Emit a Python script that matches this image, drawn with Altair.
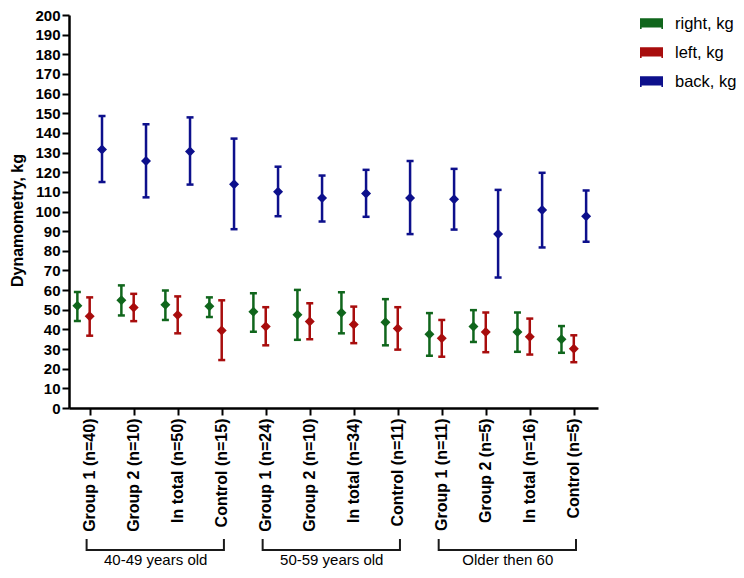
import json
import altair as alt
import pandas as pd

# ---------------- data ----------------
categories = ["Group 1 (n=40)", "Group 2 (n=10)", "In total (n=50)", "Control (n=15)",
              "Group 1 (n=24)", "Group 2 (n=10)", "In total (n=34)", "Control (n=11)",
              "Group 1 (n=11)", "Group 2 (n=5)", "In total (n=16)", "Control (n=5)"]

series_names = ["right, kg", "left, kg", "back, kg"]

right_mean = [52.0, 54.8, 52.5, 51.8, 49.0, 47.5, 48.5, 43.7, 37.5, 41.5, 38.7, 35.0]
right_low = [44.3, 47.1, 44.8, 46.3, 38.8, 34.7, 38.0, 31.9, 26.6, 33.6, 28.6, 28.1]
right_high = [59.0, 62.4, 59.8, 56.3, 58.4, 60.1, 58.9, 55.4, 48.3, 49.8, 48.6, 41.7]

left_mean = [46.7, 51.1, 47.3, 39.5, 41.5, 44.0, 42.5, 40.5, 35.5, 38.7, 36.3, 30.1]
left_low = [36.8, 44.2, 38.0, 24.4, 31.9, 35.0, 33.0, 29.7, 26.1, 28.4, 27.2, 23.3]
left_high = [56.3, 58.1, 56.8, 54.8, 51.3, 53.3, 51.6, 51.3, 44.8, 48.6, 45.5, 37.0]

back_mean = [131.6, 125.7, 130.5, 113.9, 110.0, 106.9, 109.2, 106.9, 106.2, 88.6, 100.8, 97.6]
back_low = [115.0, 107.2, 113.7, 91.0, 97.6, 94.9, 97.3, 88.5, 90.8, 66.4, 81.7, 84.6]
back_high = [148.6, 144.4, 147.9, 137.1, 122.8, 118.3, 121.2, 125.7, 121.7, 111.0, 119.7, 110.7]

group_labels = ["40-49 years old", "50-59 years old", "Older then 60"]
group_first = [0, 4, 8]
group_last = [3, 7, 11]

y_ticks = list(range(0, 201, 10))

# ---------------- table ----------------
rows = []
for s, (m, lo, hi) in zip(series_names, [(right_mean, right_low, right_high),
                                         (left_mean, left_low, left_high),
                                         (back_mean, back_low, back_high)]):
    for i, cat in enumerate(categories):
        rows.append({"idx": i, "category": cat, "series": s,
                     "mean": m[i], "low": lo[i], "high": hi[i]})
df = pd.DataFrame(rows)

gdf = pd.DataFrame({"label": group_labels, "first": group_first, "last": group_last})

# ---------------- styles ----------------
FONT = "Liberation Sans"
colors = ["#10661c", "#a80d0d", "#0d108c"]
offset_expr = "datum.series === 'right, kg' ? -0.28 : (datum.series === 'back, kg' ? 0.28 : 0)"

TOP = 7
xscale = alt.Scale(domain=[-0.47, 11.55], nice=False, zero=False)
xaxis = alt.Axis(values=list(range(len(categories))),
                 labelExpr=json.dumps(categories) + "[datum.value]",
                 labelAngle=-90, labelFont=FONT, labelFontSize=16, labelFontWeight="bold",
                 labelPadding=3, tickSize=7, title=None, grid=False)
yscale = alt.Scale(domain=[0, 200], nice=False)
yaxis = alt.Axis(values=y_ticks, labelFont=FONT, labelFontSize=15, labelFontWeight="bold",
                 tickSize=7, labelPadding=2, grid=False,
                 title="Dynamometry, kg", titleFont=FONT, titleFontSize=16,
                 titleFontWeight="bold", titleAngle=-90, titleX=-52, titleY=212 - TOP,
                 titleAlign="center", titleBaseline="middle")

legend_symbol = ("M-1,-0.46 L1,-0.46 L1,0.48 L0.86,0.48 L0.86,0.34 "
                 "L-0.86,0.34 L-0.86,0.48 L-1,0.48 Z")
legend = alt.Legend(orient="none", legendX=571, legendY=4 - TOP, title=None,
                    symbolType=legend_symbol, symbolSize=529, symbolStrokeWidth=0,
                    labelFont=FONT, labelFontSize=16.5, labelColor="black",
                    labelOffset=12, rowPadding=9, padding=0)

color_scale = alt.Scale(domain=series_names, range=colors)


def xenc(field):
    return alt.X(field, type="quantitative", scale=xscale, axis=xaxis)


def cenc():
    return alt.Color("series:N", scale=color_scale, legend=legend, sort=series_names)


base = alt.Chart(df).transform_calculate(pos="datum.idx + (" + offset_expr + ")")

points = base.mark_point(shape="diamond", filled=True, size=100, opacity=1).encode(
    x=xenc("pos"),
    y=alt.Y("mean:Q", scale=yscale, axis=yaxis),
    color=cenc(),
)
bars = base.mark_rule(strokeWidth=2.5).encode(
    x=xenc("pos"),
    y=alt.Y("low:Q", scale=yscale, axis=yaxis),
    y2="high:Q",
    color=cenc(),
)
cap_lo = base.mark_tick(orient="horizontal", size=7, thickness=2.5, opacity=1).encode(
    x=xenc("pos"),
    y=alt.Y("low:Q", scale=yscale, axis=yaxis),
    color=cenc(),
)
cap_hi = base.mark_tick(orient="horizontal", size=7, thickness=2.5, opacity=1).encode(
    x=xenc("pos"),
    y=alt.Y("high:Q", scale=yscale, axis=yaxis),
    color=cenc(),
)

gbase = alt.Chart(gdf).transform_calculate(
    x0="datum.first - 0.07", x1="datum.last + 0.05", xm="(datum.first + datum.last) / 2"
)
B_TOP = 539 - 8 - TOP
B_BOT = 550 - 8 - TOP
bracket_h = gbase.mark_rule(strokeWidth=2, color="#1a1a1a").encode(
    x=xenc("x0"), x2="x1:Q", y=alt.value(B_BOT)
)
bracket_l = gbase.mark_rule(strokeWidth=2, color="#1a1a1a").encode(
    x=xenc("x0"), y=alt.value(B_TOP), y2=alt.value(B_BOT + 1)
)
bracket_r = gbase.mark_rule(strokeWidth=2, color="#1a1a1a").encode(
    x=xenc("x1"), y=alt.value(B_TOP), y2=alt.value(B_BOT + 1)
)
glabels = gbase.mark_text(font=FONT, fontSize=15, color="black", baseline="middle").encode(
    x=xenc("xm"), y=alt.value(560 - 8 - TOP), text="label:N"
)

chart = alt.layer(points, bars, cap_lo, cap_hi, bracket_h, bracket_l, bracket_r, glabels).properties(
    width=529, height=400 - TOP,
    autosize=alt.AutoSizeParams(type="none"),
    padding={"left": 61, "top": TOP, "right": 138, "bottom": 162},
    background="white",
).configure_view(stroke=None).configure_axis(
    domainColor="black", domainWidth=2.5, tickColor="black", tickWidth=2,
    labelColor="black", titleColor="black"
)

chart.save("out.html", embed_options={"renderer": "svg", "actions": False})
